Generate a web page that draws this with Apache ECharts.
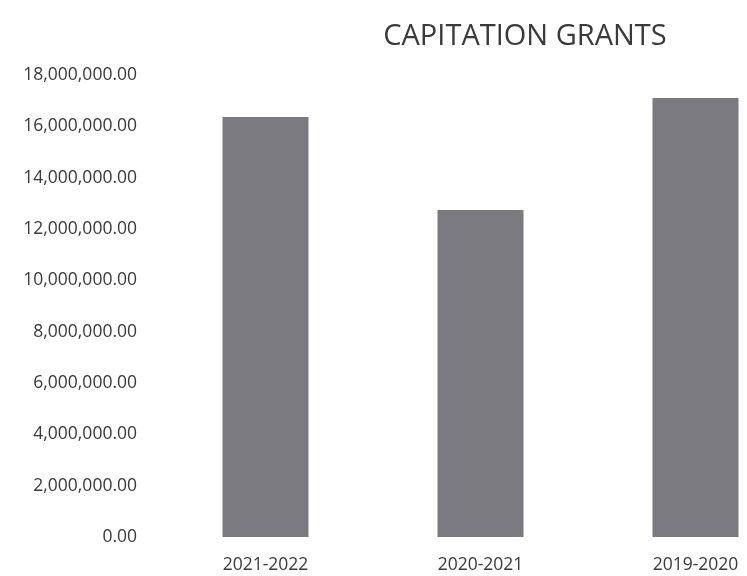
<!DOCTYPE html>
<html><head><meta charset="utf-8">
<script src="https://cdn.jsdelivr.net/npm/echarts@6/dist/echarts.min.js"></script>
<style>html,body{margin:0;padding:0;background:#fff;overflow:hidden}#c{width:820px;height:576px}</style>
</head><body><div id="c"></div>
<script>
const categories = ["2021-2022", "2020-2021", "2019-2020"];
const grants = [16360000, 12740000, 17100000];
const yTicks = [0, 2000000, 4000000, 6000000, 8000000, 10000000, 12000000, 14000000, 16000000, 18000000];

const fmt = v => v.toLocaleString('en-US', {minimumFractionDigits: 2, maximumFractionDigits: 2});
const chart = echarts.init(document.getElementById('c'));
chart.setOption({
  animation: false,
  backgroundColor: '#fff',
  title: {
    text: 'CAPITATION GRANTS', left: 520, top: 17, textAlign: 'center',
    textStyle: {fontFamily: 'Open Sans', fontWeight: 'normal', fontSize: 29, color: '#3a3a3a'}
  },
  grid: {left: 158, top: 75, width: 645, bottom: 39, containLabel: false},
  xAxis: {
    type: 'category', data: categories,
    axisLine: {show: false}, axisTick: {show: false},
    axisLabel: {fontFamily: 'Open Sans', fontSize: 17.5, color: '#3a3a3a', margin: 19}
  },
  yAxis: {
    type: 'value', min: yTicks[0], max: yTicks[yTicks.length - 1], interval: yTicks[1] - yTicks[0],
    splitLine: {show: false}, axisLine: {show: false}, axisTick: {show: false},
    axisLabel: {fontFamily: 'Open Sans', fontSize: 17.5, color: '#3a3a3a', margin: 21, formatter: fmt}
  },
  series: [{
    type: 'bar', data: grants, barWidth: 86,
    itemStyle: {color: '#7a7a80'}
  }]
});
</script></body></html>
